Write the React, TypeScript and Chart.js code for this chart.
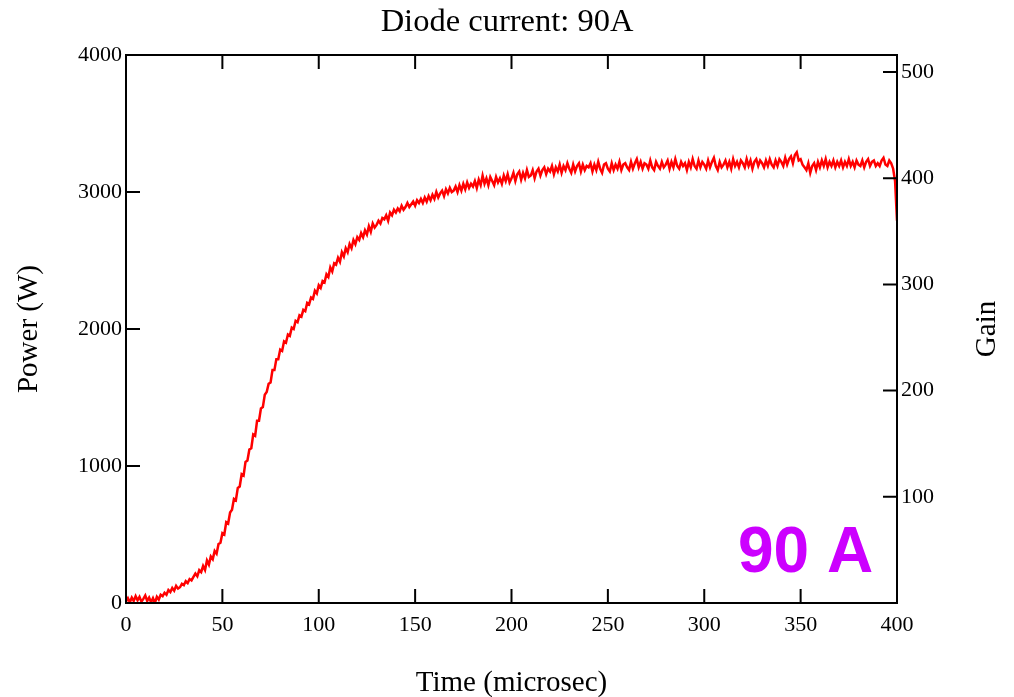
import React, { useEffect, useRef } from "react";
import { Chart, registerables } from "chart.js";

Chart.register(...registerables);

const TITLE = "Diode current: 90A";
const X_TITLE = "Time (microsec)";
const Y_TITLE = "Power (W)";
const Y2_TITLE = "Gain";
const CURRENT_LABEL = "90 A";

const X_TICKS = [0, 50, 100, 150, 200, 250, 300, 350, 400];
const POWER_TICKS = [0, 1000, 2000, 3000, 4000];
const GAIN_TICKS = [100, 200, 300, 400, 500];
const X_RANGE = [0, 400];
const POWER_RANGE = [0, 4000];
const GAIN_RANGE = [0, 516];

// sampling grid of the trace (microseconds)
const T_START = 0;
const T_STEP = 1;

const POWER = [
  10, 35, 5, 40, 15, 50, 20, 45, 10, 30,
  55, 15, 40, 5, 35, 0, 45, 25, 60, 50,
  75, 60, 95, 80, 110, 90, 125, 105, 115, 140,
  130, 160, 145, 175, 165, 190, 215, 195, 240, 225,
  270, 240, 310, 280, 340, 320, 380, 360, 430, 440,
  510, 500, 590, 580, 660, 680, 760, 750, 840, 850,
  940, 930, 1030, 1040, 1120, 1130, 1230, 1220, 1330, 1330,
  1420, 1430, 1520, 1540, 1600, 1610, 1700, 1700, 1780, 1780,
  1850, 1840, 1910, 1900, 1960, 1950, 2010, 2000, 2060, 2050,
  2100, 2090, 2140, 2130, 2190, 2180, 2230, 2220, 2280, 2260,
  2320, 2300, 2350, 2340, 2400, 2380, 2450, 2420, 2480, 2470,
  2520, 2490, 2560, 2530, 2590, 2560, 2620, 2590, 2650, 2620,
  2670, 2650, 2700, 2670, 2720, 2690, 2750, 2710, 2770, 2740,
  2760, 2790, 2770, 2810, 2800, 2830, 2790, 2850, 2830, 2870,
  2850, 2880, 2860, 2900, 2870, 2890, 2920, 2890, 2910, 2930,
  2900, 2940, 2920, 2950, 2920, 2960, 2930, 2970, 2940, 2980,
  2950, 3000, 2960, 2990, 3010, 2970, 3020, 2990, 3030, 3000,
  3010, 3040, 3000, 3050, 3010, 3060, 3020, 3070, 3030, 3060,
  3040, 3080, 3030, 3090, 3050, 3120, 3060, 3100, 3050, 3110,
  3080, 3050, 3110, 3070, 3100, 3060, 3120, 3080, 3130, 3070,
  3100, 3140, 3080, 3130, 3150, 3090, 3140, 3100, 3160, 3110,
  3120, 3160, 3100, 3150, 3170, 3120, 3160, 3180, 3130, 3170,
  3150, 3190, 3130, 3180, 3150, 3200, 3140, 3190, 3160, 3210,
  3170, 3140, 3200, 3150, 3190, 3210, 3150, 3200, 3160, 3190,
  3180, 3210, 3150, 3200, 3160, 3220, 3170, 3140, 3200, 3210,
  3170, 3150, 3210, 3160, 3200, 3170, 3220, 3160, 3200, 3210,
  3180, 3160, 3220, 3170, 3210, 3240, 3180, 3220, 3170, 3210,
  3200, 3170, 3230, 3180, 3160, 3220, 3190, 3170, 3220, 3180,
  3200, 3230, 3170, 3220, 3180, 3240, 3190, 3170, 3220, 3190,
  3210, 3160, 3220, 3180, 3240, 3190, 3170, 3230, 3180, 3220,
  3200, 3170, 3230, 3180, 3220, 3250, 3190, 3160, 3220, 3180,
  3200, 3230, 3180, 3220, 3170, 3240, 3190, 3220, 3180, 3230,
  3210, 3180, 3240, 3190, 3230, 3170, 3220, 3240, 3190, 3230,
  3210, 3180, 3230, 3190, 3240, 3200, 3180, 3230, 3190, 3240,
  3220, 3190, 3250, 3200, 3240, 3260, 3210, 3270, 3290, 3230,
  3240, 3200, 3180, 3160, 3210, 3140, 3190, 3210, 3160, 3220,
  3180, 3230, 3190, 3240, 3180, 3220, 3190, 3230, 3180, 3220,
  3190, 3230, 3180, 3220, 3190, 3240, 3190, 3220, 3180, 3230,
  3200, 3190, 3230, 3180, 3220, 3240, 3190, 3220, 3230, 3190,
  3210, 3190, 3230, 3250, 3200, 3190, 3230, 3210, 3170, 3080,
  2790,
];

const SERIF = '"Liberation Serif", "Times New Roman", Times, serif';
const SANS = '"Liberation Sans", Arial, Helvetica, sans-serif';

const framePlugin = {
  id: "frameAndInnerTicks",
  afterDatasetsDraw(chart: any) {
    const { ctx, chartArea, scales } = chart;
    const { left, right, top, bottom } = chartArea;
    const len = 14;
    ctx.save();
    ctx.strokeStyle = "#000";
    ctx.lineWidth = 2;
    ctx.beginPath();
    X_TICKS.forEach((v) => {
      const px = scales.x.getPixelForValue(v);
      ctx.moveTo(px, bottom);
      ctx.lineTo(px, bottom - len);
      ctx.moveTo(px, top);
      ctx.lineTo(px, top + len);
    });
    POWER_TICKS.forEach((v) => {
      const py = scales.y.getPixelForValue(v);
      ctx.moveTo(left, py);
      ctx.lineTo(left + len, py);
    });
    GAIN_TICKS.forEach((v) => {
      const py = scales.y1.getPixelForValue(v);
      ctx.moveTo(right, py);
      ctx.lineTo(right - len, py);
    });
    ctx.stroke();
    ctx.strokeRect(left, top, right - left, bottom - top);

    // right axis title, reading bottom-to-top
    ctx.fillStyle = "#000";
    ctx.font = `29px ${SERIF}`;
    ctx.textAlign = "center";
    ctx.textBaseline = "alphabetic";
    ctx.translate(chart.width - 19, (top + bottom) / 2);
    ctx.rotate(-Math.PI / 2);
    ctx.fillText(Y2_TITLE, 0, 0);
    ctx.restore();

    // current label
    ctx.save();
    ctx.fillStyle = "#cc00ff";
    ctx.font = `bold 64px ${SANS}`;
    ctx.textAlign = "left";
    ctx.textBaseline = "alphabetic";
    ctx.fillText(CURRENT_LABEL, right - 159, bottom - 31);
    ctx.restore();
  },
};

export default function App() {
  const ref = useRef<HTMLCanvasElement | null>(null);

  useEffect(() => {
    document.body.style.margin = "0";
    const canvas = ref.current;
    if (!canvas) return;
    const points = POWER.map((p, i) => ({ x: T_START + i * T_STEP, y: p }));
    const tickFont = { family: SERIF, size: 22 };
    const plain = (v: any) => String(v);
    const chart = new Chart(canvas, {
      type: "line",
      data: {
        datasets: [
          {
            data: points,
            borderColor: "#ff0000",
            borderWidth: 2.5,
            pointRadius: 0,
            tension: 0,
            fill: false,
            yAxisID: "y",
          },
        ],
      },
      options: {
        animation: false,
        responsive: true,
        maintainAspectRatio: false,
        layout: { padding: 0 },
        plugins: {
          legend: { display: false },
          tooltip: { enabled: false },
          title: {
            display: true,
            text: TITLE,
            color: "#000",
            font: { family: SERIF, size: 32.5, weight: "normal" },
            padding: { top: 3, bottom: 13 },
          },
        },
        scales: {
          x: {
            type: "linear",
            position: "bottom",
            min: X_RANGE[0],
            max: X_RANGE[1],
            afterBuildTicks: (s: any) => {
              s.ticks = X_TICKS.map((v) => ({ value: v }));
            },
            afterFit: (s: any) => {
              s.height = 94;
            },
            grid: { display: false, drawTicks: false },
            border: { display: false },
            ticks: { color: "#000", font: tickFont, padding: 9, maxRotation: 0, autoSkip: false, callback: plain },
            title: {
              display: true,
              text: X_TITLE,
              color: "#000",
              font: { family: SERIF, size: 29 },
              padding: { top: 0, bottom: -3.6 },
            },
          },
          y: {
            type: "linear",
            position: "left",
            min: POWER_RANGE[0],
            max: POWER_RANGE[1],
            afterBuildTicks: (s: any) => {
              s.ticks = POWER_TICKS.map((v) => ({ value: v }));
            },
            afterFit: (s: any) => {
              s.width = 126;
            },
            grid: { display: false, drawTicks: false },
            border: { display: false },
            ticks: { color: "#000", font: tickFont, padding: 4, callback: plain },
            title: {
              display: true,
              text: Y_TITLE,
              color: "#000",
              font: { family: SERIF, size: 29 },
              padding: { top: 12, bottom: 0 },
            },
          },
          y1: {
            type: "linear",
            position: "right",
            min: GAIN_RANGE[0],
            max: GAIN_RANGE[1],
            afterBuildTicks: (s: any) => {
              s.ticks = GAIN_TICKS.map((v) => ({ value: v }));
            },
            afterFit: (s: any) => {
              s.width = 117;
            },
            grid: { display: false, drawTicks: false },
            border: { display: false },
            ticks: { color: "#000", font: tickFont, padding: 4, callback: plain },
            title: { display: false },
          },
        },
      },
      plugins: [framePlugin],
    } as any);
    return () => chart.destroy();
  }, []);

  return (
    <div style={{ position: "absolute", left: 0, top: 0, width: 1014, height: 697 }}>
      <canvas ref={ref} />
    </div>
  );
}
